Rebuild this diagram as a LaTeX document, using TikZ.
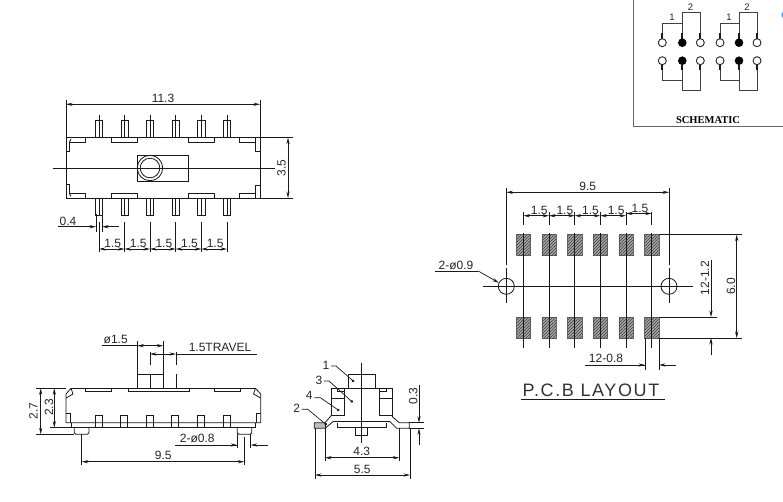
\documentclass[tikz,border=0pt]{standalone}
\usepackage{fontspec}
\setmainfont{Liberation Sans}
\newfontfamily\schemfont{Liberation Serif}
\usetikzlibrary{arrows.meta,patterns}
\tikzset{
  ln/.style={line width=.8pt,black!90},
  dimboth/.style={line width=.7pt,black!90,{Stealth[length=6.5pt,width=3.2pt]}-{Stealth[length=6.5pt,width=3.2pt]}},
  dimend/.style={line width=.7pt,black!90,-{Stealth[length=6.5pt,width=3.2pt]}},
  dimtxt/.style={inner sep=0pt,font=\fontsize{12}{14}\selectfont,text=black!85},
  padbox/.style={line width=.5pt,draw=black!60,fill=black!35,postaction={pattern=north east lines,pattern color=black!75}},
  wire/.style={line width=1pt,black!75},
  tiny tip/.style={line width=1.7pt,black!90},
  leader/.style={line width=.7pt,black!90,-{Circle[length=2.6pt]}},
  box/.style={line width=1.2pt,black!60}
}
\begin{document}
\begin{tikzpicture}[x=1pt,y=-1pt]
\useasboundingbox (0,0) rectangle (783,501);
\fill[white] (0,0) rectangle (783,501);

%% ---------- top view ----------
\draw[ln] (66,137.7) rectangle (260,198);
\draw[ln] (52.7,168) -- (275,168);
\draw[ln] (137,155.3) rectangle (188.7,181.3);
\draw[ln] (150,168) circle[radius=12.7pt] (150,168) circle[radius=9.8pt];
\draw[ln] (66,100) -- (66,137.7) (260,100) -- (260,137.7);
\draw[dimboth] (66,104.3) -- (260,104.3);
\node[dimtxt] (lenA) at (163,98.5) {11.3};
\draw[ln] (260,137.7) -- (293,137.7) (260,198) -- (293,198);
\draw[dimboth] (288,137.7) -- (288,198);
\node[dimtxt,rotate=90] (hA) at (281.5,168) {3.5};
% corner and edge notches
\draw[ln] (66,151.7) -- (69.5,151.7) -- (69.5,142) -- (85.7,142) -- (85.7,137.7);
\draw[ln] (69.5,142) -- (71,139);
\draw[ln] (111,137.7) -- (111,142) -- (137.5,142) -- (137.5,137.7);
\draw[ln] (188.7,137.7) -- (188.7,142) -- (214.7,142) -- (214.7,137.7);
\draw[ln] (239.3,137.7) -- (239.3,142) -- (255,142) -- (255,151) -- (260,151);
\draw[ln] (255,142) -- (255,137.7);
\draw[ln] (66,184) -- (69.5,184) -- (69.5,193.7) -- (85.7,193.7) -- (85.7,198);
\draw[ln] (69.5,193.7) -- (71,196.5);
\draw[ln] (111,198) -- (111,193.7) -- (137.5,193.7) -- (137.5,198);
\draw[ln] (188.7,198) -- (188.7,193.7) -- (214.7,193.7) -- (214.7,198);
\draw[ln] (239.3,198) -- (239.3,193.7) -- (255,193.7) -- (255,185) -- (260,185);
\draw[ln] (255,193.7) -- (255,198);
% pins
\foreach \x in {99,124.5,150,175.7,201.3,227}{
  \draw[ln] (\x-3.6,137.7) -- (\x-3.6,120) -- (\x+3.6,120) -- (\x+3.6,137.7);
  \draw[ln] (\x,115) -- (\x,137.7);
  \draw[ln] (\x-3.6,198) -- (\x-3.6,215.7) -- (\x+3.6,215.7) -- (\x+3.6,198);
  \draw[ln] (\x,198) -- (\x,215) (\x,222) -- (\x,252);
}
\foreach \a/\b in {99/124.5,124.5/150,150/175.7,175.7/201.3,201.3/227}{
  \draw[dimboth] (\a,249) -- (\b,249);
  \node[dimtxt] at ({(\a+\b)/2+1},243) {1.5};
}
\draw[ln] (96,214) -- (96,232) (102,214) -- (102,232);
\draw[dimend] (58,226.7) -- (96,226.7);
\draw[dimend] (119,226.7) -- (102,226.7);
\node[dimtxt] (pinw) at (68,221) {0.4};

%% ---------- P.C.B layout ----------
\foreach \x in {523.5,549,574.7,600.3,626,651.7}{
  \draw[padbox] (\x-7.2,234.7) rectangle (\x+7.2,255.7);
  \draw[padbox] (\x-7.2,317) rectangle (\x+7.2,338);
  \draw[ln] (\x,212) -- (\x,225) (\x,233) -- (\x,348);
}
\draw[ln] (483.3,286.3) -- (693,286.3);
\draw[ln] (506.3,188) -- (506.3,265) (506.3,268) -- (506.3,303);
\draw[ln] (669,188) -- (669,265) (669,268) -- (669,303);
\draw[ln] (506.3,286.3) circle[radius=8pt] (669,286.3) circle[radius=8pt];
\draw[dimboth] (506.3,192.3) -- (669,192.3);
\node[dimtxt] (pcbw) at (587.7,186.5) {9.5};
\foreach \a/\b in {523.5/549,549/574.7,574.7/600.3,600.3/626}{
  \draw[dimboth] (\a,215.7) -- (\b,215.7);
  \node[dimtxt] at ({(\a+\b)/2+3},210.5) {1.5};
}
\draw[dimboth] (626,213.5) -- (651.7,213.5);
\node[dimtxt] at (640,208) {1.5};
\node[dimtxt] (hole) at (456,265) {2-ø0.9};
\draw[ln] (435,271) -- (478.3,271);
\draw[dimend] (478.3,271) -- (498.8,282.8);
\draw[ln] (659,234.7) -- (741.7,234.7) (659,338) -- (741.7,338);
\draw[dimboth] (736.7,234.7) -- (736.7,338);
\node[dimtxt,rotate=90] (pad6) at (731,286.5) {6.0};
\draw[ln] (659,317) -- (716.7,317);
\draw[dimend] (711,260) -- (711,317);
\draw[dimend] (711,355) -- (711,338);
\node[dimtxt,rotate=90] (pad12) at (705,278) {12-1.2};
\draw[ln] (645,338) -- (645,370) (659,338) -- (659,370);
\draw[ln] (585,365) -- (645,365);
\draw[dimend] (630,365) -- (645,365);
\draw[dimend] (676,365) -- (659,365);
\node[dimtxt] (pad08) at (606,358.5) {12-0.8};
\node[inner sep=0pt,font=\fontsize{18}{21}\selectfont\addfontfeature{LetterSpace=9},text=black!80] (pcbtitle) at (591,390.5) {P.C.B LAYOUT};
\draw[ln] (521,399) -- (665,399);

%% ---------- schematic ----------
\draw[box] (633.3,0) -- (633.3,126.7) -- (783,126.7);
\foreach \a/\b/\c in {662.3/682.3/700.3,720/739/757}{
  \draw[wire] (\a,35) -- (\a,23.3) -- (\b,23.3) (\b,35) -- (\b,12.3) -- (\c,12.3) -- (\c,35);
  \draw[wire] (\a,68) -- (\a,80) -- (\b,80) (\b,68) -- (\b,90.7) -- (\c,90.7) -- (\c,68);
  \foreach \p in {\a,\b,\c}{
    \draw[tiny tip] (\p,33) -- (\p,38.5);
    \draw[tiny tip] (\p,64.5) -- (\p,70);
  }
  \draw[line width=.9pt,black!85] (\a,42.7) circle[radius=4pt] (\c,42.7) circle[radius=4pt];
  \draw[line width=.9pt,black!85] (\a,60.7) circle[radius=4pt] (\c,60.7) circle[radius=4pt];
  \fill[black] (\b,42.7) circle[radius=4.3pt] (\b,60.7) circle[radius=4.3pt];
}
\foreach \x/\y/\t in {672/17.5/1,690.5/7.5/2,729/17.5/1,747/7.5/2}{
  \node[inner sep=0pt,font=\fontsize{9.5}{11}\selectfont,text=black!85] at (\x,\y) {\t};
}
\node[inner sep=0pt,font=\schemfont\bfseries\fontsize{10.5}{12}\selectfont] (schem) at (708,120) {SCHEMATIC};
\fill[blue!55!cyan!75] (785,15) circle[radius=3.6pt];

%% ---------- side view ----------
\draw[ln] (71,388.3) -- (255.5,388.3);
\draw[ln] (71,388.3) -- (66,394) -- (66,422.7) -- (260.7,422.7) -- (260.7,394) -- (255.5,388.3);
\draw[ln] (71,388.3) -- (73,394) -- (66,398);
\draw[ln] (255.5,388.3) -- (253.5,394) -- (260.7,398);
\draw[ln] (66,413.5) -- (70,413.5) -- (70,422.7);
\draw[ln] (260.7,413.5) -- (256.7,413.5) -- (256.7,422.7);
\draw[ln] (71,422.7) -- (71,427.3) -- (255.7,427.3) -- (255.7,422.7);
\draw[ln,rounded corners=1.5pt] (74.3,427.3) -- (74.3,434.3) -- (89,434.3) -- (89,427.3);
\draw[ln,rounded corners=1.5pt] (237.3,427.3) -- (237.3,434.3) -- (251.7,434.3) -- (251.7,427.3);
\foreach \a/\b in {85.7/111.7,128.3/189,214.3/240}{
  \draw[ln] (\a,388.3) -- (\a,391.7) -- (\b,391.7) -- (\b,388.3);
}
\foreach \x in {98.8,123.7,149.7,175.3,201,227}{
  \draw[ln] (\x-3.5,427.3) -- (\x-3.5,415.7) -- (\x+3.5,415.7) -- (\x+3.5,427.3);
}
\draw[ln] (137.3,388.3) -- (137.3,340.7) (163.3,388.3) -- (163.3,340.7);
\draw[ln] (137.3,374.3) -- (163.3,374.3);
\draw[ln] (150,388.3) -- (150,374.3) (150,365) -- (150,351.7);
\draw[ln] (176,388.3) -- (176,374.3) (176,365) -- (176,351.7);
\draw[ln] (101.7,345.7) -- (137.3,345.7);
\draw[dimboth] (137.3,345.7) -- (163.3,345.7);
\node[dimtxt] (bdia) at (115.7,339.5) {ø1.5};
\draw[ln] (176,354) -- (257.3,354);
\draw[dimboth] (150,354) -- (176,354);
\node[dimtxt] (travel) at (220,347) {1.5TRAVEL};
\draw[ln] (36,388.3) -- (66,388.3) (36,434.3) -- (74.3,434.3);
\draw[dimboth] (40.7,388.3) -- (40.7,434.3);
\node[dimtxt,rotate=90] (h27) at (33.5,411) {2.7};
\draw[ln] (50,427.7) -- (71,427.7);
\draw[dimboth] (54.3,388.3) -- (54.3,427.7);
\node[dimtxt,rotate=90] (h23) at (49,407.5) {2.3};
\draw[ln] (81.7,434.3) -- (81.7,465) (244.3,436.7) -- (244.3,465);
\draw[dimboth] (81.7,461.7) -- (244.3,461.7);
\node[dimtxt] (w95) at (163.3,455) {9.5};
\draw[ln] (237.3,434.3) -- (237.3,448) (250.7,434.3) -- (250.7,448);
\draw[ln] (175,445) -- (237.3,445);
\draw[dimend] (222,445) -- (237.3,445);
\draw[dimend] (268.3,445) -- (250.7,445);
\node[dimtxt] (d08) at (197.3,438.5) {2-ø0.8};

%% ---------- front view ----------
\draw[ln] (361.7,363.3) -- (361.7,442.7);
\draw[ln] (348.7,388.3) -- (348.7,374.3) -- (375,374.3) -- (375,388.3);
\draw[ln] (331.7,415) -- (331.7,388.3) -- (392.3,388.3) -- (392.3,416.7);
\draw[ln] (337.3,388.3) -- (337.3,391.7) -- (344,391.7) -- (344,388.3);
\draw[ln] (379.3,388.3) -- (379.3,391.7) -- (386,391.7) -- (386,388.3);
\draw[ln] (331.7,398.3) -- (344,398.3) -- (344,415) -- (331.7,415);
\draw[ln] (379.3,391.7) -- (379.3,415) -- (392.3,415) (379.3,398.3) -- (392.3,398.3);
\draw[ln] (344,391.7) -- (344,398.3);
\draw[ln] (333,421.7) -- (390,421.7);
\draw[ln] (337.3,422.7) -- (337.3,427.5) -- (386,427.5) -- (386,422.7);
\draw[ln] (355.3,427.5) -- (355.3,435) -- (367.7,435) -- (367.7,427.5);
% left wing
\fill[black!25] (314.3,422.7) rectangle (325,428.3);
\draw[ln] (331.7,415) -- (325,422.7) -- (314.3,422.7) -- (314.3,428.3) -- (325,428.3) -- (333,421.7);
\draw[ln] (325,422.7) -- (325,428.3);
% right wing
\draw[ln] (392.3,416.7) -- (399.3,422.7) -- (409.3,422.7) -- (409.3,428.3) -- (396.7,428.3) -- (390,421.7);
% 0.3
\draw[ln] (409.3,422.7) -- (424,422.7) (409.3,428.3) -- (424,428.3);
\draw[dimend] (419,385) -- (419,422.7);
\draw[dimend] (419,445) -- (419,428.3);
\node[dimtxt,rotate=90] (t03) at (413.3,395.7) {0.3};
% 4.3 / 5.5
\draw[ln] (325,428.3) -- (325,461) (399.3,428.3) -- (399.3,461);
\draw[dimboth] (325,457.7) -- (399.3,457.7);
\node[dimtxt] (w43) at (361.7,451.5) {4.3};
\draw[ln] (315,428.3) -- (315,479) (410,428.3) -- (410,479);
\draw[dimboth] (315,475) -- (410,475);
\node[dimtxt] (w55) at (362.3,469) {5.5};
% part numbers
\node[dimtxt] (pA) at (326,365) {1};
\node[dimtxt] (pC) at (319,380) {3};
\node[dimtxt] (pD) at (309.3,395.7) {4};
\node[dimtxt] (pB) at (296.7,408.3) {2};
\coordinate (qA) at (354,381.7);
\coordinate (qC) at (352.7,402.3);
\coordinate (qD) at (339.3,410.7);
\coordinate (qB) at (326.7,425);
\draw[leader] (pA.east) ++(1.5pt,-1pt) -- ++(5pt,0) -- (qA);
\draw[leader] (pC.east) ++(1.5pt,-1pt) -- ++(5pt,0) -- (qC);
\draw[leader] (pD.east) ++(1.5pt,-2pt) -- ++(6pt,0) -- (qD);
\draw[leader] (pB.east) ++(1.5pt,-1pt) -- ++(6pt,0) -- (qB);
\end{tikzpicture}
\end{document}
